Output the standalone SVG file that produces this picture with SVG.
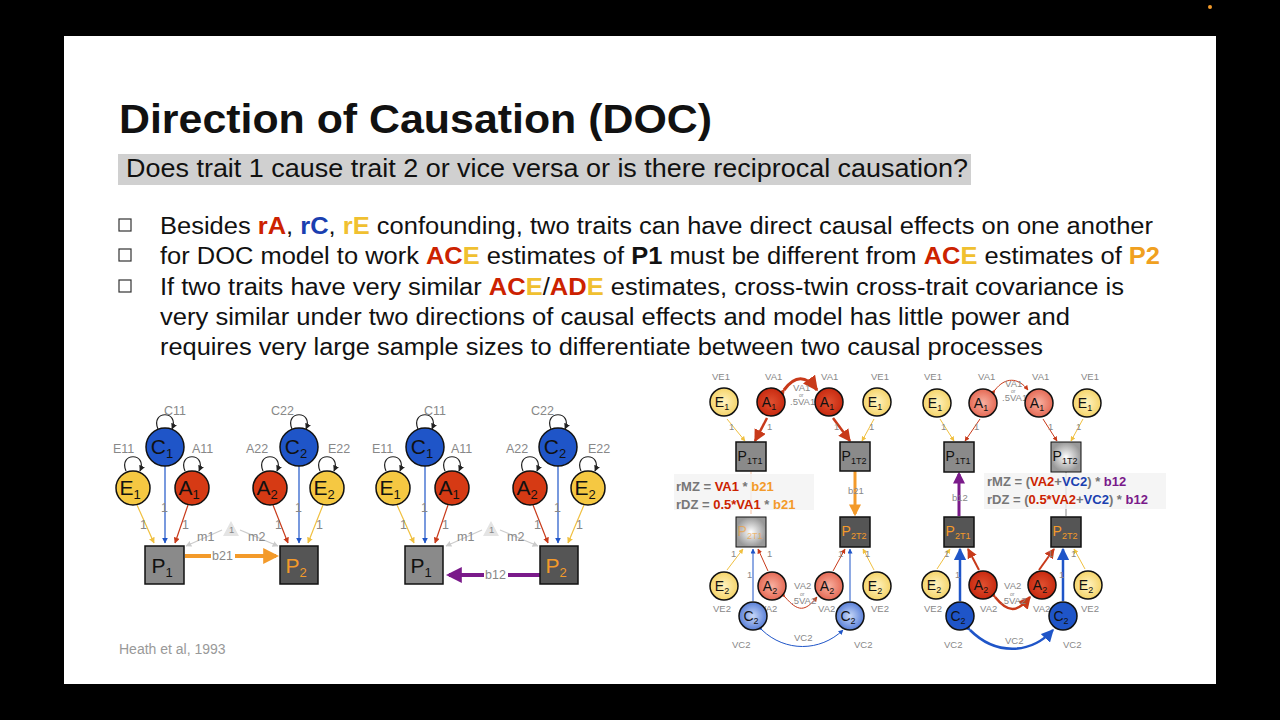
<svg xmlns="http://www.w3.org/2000/svg" width="1280" height="720" viewBox="0 0 1280 720">
<defs>
<style>
.t{font-family:"Liberation Sans",Arial,sans-serif}
.b{font-size:23px;fill:#111}
.lbl{font-family:"Liberation Sans",Arial,sans-serif;font-size:12.5px;fill:#888}
.sl{font-family:"Liberation Sans",Arial,sans-serif;font-size:9.5px;fill:#888}
.nd{stroke:#111;stroke-width:1.5}
.nt{font-family:"Liberation Sans",Arial,sans-serif;font-size:21px;fill:#111;text-anchor:middle}
.ns{font-family:"Liberation Sans",Arial,sans-serif;font-size:14px;fill:#111;text-anchor:middle}
.nt.o,.ns.o{fill:#f39a2a}
.box{fill:#8a8a8a;stroke:#111;stroke-width:1.5}
.dbox{fill:#555;stroke:#111;stroke-width:1.5}
</style>
<marker id="ab" viewBox="0 0 10 10" refX="9" refY="5" markerWidth="5" markerHeight="5" orient="auto"><path d="M0,0 L10,5 L0,10z" fill="#222"/></marker>
<marker id="abl" viewBox="0 0 10 10" refX="9" refY="5" markerWidth="5" markerHeight="5" orient="auto"><path d="M0,0 L10,5 L0,10z" fill="#1f55c8"/></marker>
<marker id="ar" viewBox="0 0 10 10" refX="9" refY="5" markerWidth="5" markerHeight="5" orient="auto"><path d="M0,0 L10,5 L0,10z" fill="#c83a1a"/></marker>
<marker id="ay" viewBox="0 0 10 10" refX="9" refY="5" markerWidth="5" markerHeight="5" orient="auto"><path d="M0,0 L10,5 L0,10z" fill="#f0c040"/></marker>
<marker id="ag" viewBox="0 0 10 10" refX="9" refY="5" markerWidth="5" markerHeight="5" orient="auto"><path d="M0,0 L10,5 L0,10z" fill="#ccc"/></marker>
<marker id="ao" viewBox="0 0 10 10" refX="8" refY="5" markerWidth="4" markerHeight="4" orient="auto"><path d="M0,0 L10,5 L0,10z" fill="#f39a2a"/></marker>
<marker id="ap" viewBox="0 0 10 10" refX="8" refY="5" markerWidth="4" markerHeight="4" orient="auto"><path d="M0,0 L10,5 L0,10z" fill="#7a1a8a"/></marker>
<radialGradient id="gy"><stop offset="0" stop-color="#fff3c0"/><stop offset="1" stop-color="#f5d46a"/></radialGradient>
<radialGradient id="gr"><stop offset="0" stop-color="#e05030"/><stop offset="1" stop-color="#c82a10"/></radialGradient>
<radialGradient id="gpr"><stop offset="0" stop-color="#f8b0a0"/><stop offset="1" stop-color="#e56a55"/></radialGradient>
<radialGradient id="gpb"><stop offset="0" stop-color="#c8d8f8"/><stop offset="1" stop-color="#5a80d8"/></radialGradient>
<radialGradient id="gw"><stop offset="0" stop-color="#fff"/><stop offset="1" stop-color="#999"/></radialGradient>
</defs>
<rect width="1280" height="720" fill="#000"/>
<rect x="64" y="36" width="1152" height="648" fill="#fff"/>
<circle cx="1210" cy="7" r="2" fill="#f39a2a"/>

<g id="title">
<text class="t" x="119" y="133" font-size="41" font-weight="bold" fill="#111" textLength="593" lengthAdjust="spacingAndGlyphs">Direction of Causation (DOC)</text>
<rect x="118" y="154" width="853" height="31" fill="#d0d0d0"/>
<text class="t" x="126" y="177" font-size="25" fill="#111" textLength="842" lengthAdjust="spacingAndGlyphs">Does trait 1 cause trait 2 or vice versa or is there reciprocal causation?</text>
</g>

<g id="bullets">
<g fill="none" stroke="#333" stroke-width="1.2">
<rect x="119" y="219" width="12" height="12"/><rect x="119" y="249" width="12" height="12"/><rect x="119" y="280" width="12" height="12"/>
</g>
<text class="t b" x="160" y="234" textLength="993" lengthAdjust="spacingAndGlyphs">Besides <tspan fill="#cc2200" font-weight="bold">rA</tspan>, <tspan fill="#1a3fb0" font-weight="bold">rC</tspan>, <tspan fill="#f0c030" font-weight="bold">rE</tspan> confounding, two traits can have direct causal effects on one another</text>
<text class="t b" x="160" y="264" textLength="1000" lengthAdjust="spacingAndGlyphs">for DOC model to work <tspan fill="#cc2200" font-weight="bold">AC</tspan><tspan fill="#f0c030" font-weight="bold">E</tspan> estimates of <tspan font-weight="bold">P1</tspan> must be different from <tspan fill="#cc2200" font-weight="bold">AC</tspan><tspan fill="#f0c030" font-weight="bold">E</tspan> estimates of <tspan fill="#f0a020" font-weight="bold">P2</tspan></text>
<text class="t b" x="160" y="295" textLength="964" lengthAdjust="spacingAndGlyphs">If two traits have very similar <tspan fill="#cc2200" font-weight="bold">AC</tspan><tspan fill="#f0c030" font-weight="bold">E</tspan>/<tspan fill="#cc2200" font-weight="bold">AD</tspan><tspan fill="#f0c030" font-weight="bold">E</tspan> estimates, cross-twin cross-trait covariance is</text>
<text class="t b" x="160" y="325" textLength="910" lengthAdjust="spacingAndGlyphs">very similar under two directions of causal effects and model has little power and</text>
<text class="t b" x="160" y="355" textLength="883" lengthAdjust="spacingAndGlyphs">requires very large sample sizes to differentiate between two causal processes</text>
</g>

<g id="connectors-left">
<g fill="none" stroke-width="1.2">
<path d="M165,466 V543" stroke="#1f55c8" marker-end="url(#abl)"/>
<path d="M137,505 L154,543" stroke="#f0c040" marker-end="url(#ay)"/>
<path d="M188,505 L175,543" stroke="#c83a1a" marker-end="url(#ar)"/>
<path d="M299,466 V543" stroke="#1f55c8" marker-end="url(#abl)"/>
<path d="M273,505 L288,543" stroke="#c83a1a" marker-end="url(#ar)"/>
<path d="M323,505 L308,543" stroke="#f0c040" marker-end="url(#ay)"/>
<path d="M222,530 L186,546" stroke="#ccc" marker-end="url(#ag)"/>
<path d="M240,530 L278,546" stroke="#ccc" marker-end="url(#ag)"/>
<path d="M425,466 V543" stroke="#1f55c8" marker-end="url(#abl)"/>
<path d="M397,505 L414,543" stroke="#f0c040" marker-end="url(#ay)"/>
<path d="M448,505 L435,543" stroke="#c83a1a" marker-end="url(#ar)"/>
<path d="M558,466 V543" stroke="#1f55c8" marker-end="url(#abl)"/>
<path d="M533,505 L548,543" stroke="#c83a1a" marker-end="url(#ar)"/>
<path d="M584,505 L568,543" stroke="#f0c040" marker-end="url(#ay)"/>
<path d="M482,530 L446,546" stroke="#ccc" marker-end="url(#ag)"/>
<path d="M500,530 L538,546" stroke="#ccc" marker-end="url(#ag)"/>
<path d="M158,429 C150,410 180,410 172,429" stroke="#222" marker-end="url(#ab)"/>
<path d="M126,471 C118,452 148,452 140,471" stroke="#222" marker-end="url(#ab)"/>
<path d="M185,471 C177,452 207,452 199,471" stroke="#222" marker-end="url(#ab)"/>
<path d="M292,429 C284,410 314,410 306,429" stroke="#222" marker-end="url(#ab)"/>
<path d="M263,471 C255,452 285,452 277,471" stroke="#222" marker-end="url(#ab)"/>
<path d="M320,471 C312,452 342,452 334,471" stroke="#222" marker-end="url(#ab)"/>
<path d="M418,429 C410,410 440,410 432,429" stroke="#222" marker-end="url(#ab)"/>
<path d="M386,471 C378,452 408,452 400,471" stroke="#222" marker-end="url(#ab)"/>
<path d="M445,471 C437,452 467,452 459,471" stroke="#222" marker-end="url(#ab)"/>
<path d="M551,429 C543,410 573,410 565,429" stroke="#222" marker-end="url(#ab)"/>
<path d="M523,471 C515,452 545,452 537,471" stroke="#222" marker-end="url(#ab)"/>
<path d="M581,471 C573,452 603,452 595,471" stroke="#222" marker-end="url(#ab)"/>
</g>
<path d="M185,556 H276" stroke="#f39a2a" stroke-width="4" marker-end="url(#ao)"/>
<path d="M540,575 H449" stroke="#7a1a8a" stroke-width="4" marker-end="url(#ap)"/>
</g>
<g id="labels-left" class="lbl">
<text x="164" y="415">C11</text><text x="113" y="453">E11</text><text x="192" y="453">A11</text>
<text x="271" y="415">C22</text><text x="246" y="453">A22</text><text x="328" y="453">E22</text>
<text x="424" y="415">C11</text><text x="372" y="453">E11</text><text x="451" y="453">A11</text>
<text x="531" y="415">C22</text><text x="506" y="453">A22</text><text x="588" y="453">E22</text>
<text x="161" y="512">1</text><text x="140" y="529">1</text><text x="182" y="529">1</text>
<text x="295" y="512">1</text><text x="275" y="529">1</text><text x="316" y="529">1</text>
<text x="421" y="512">1</text><text x="400" y="529">1</text><text x="442" y="529">1</text>
<text x="554" y="512">1</text><text x="534" y="529">1</text><text x="576" y="529">1</text>
<text x="197" y="541">m1</text><text x="248" y="541">m2</text>
<text x="457" y="541">m1</text><text x="507" y="541">m2</text>
<rect x="211" y="550" width="24" height="12" fill="#fff"/><text x="212" y="560">b21</text>
<rect x="484" y="569" width="24" height="12" fill="#fff"/><text x="485" y="579">b12</text>
</g>
<g id="tri-left"><path d="M231,521 L239,536 L223,536z" fill="#e4e4e4"/><text class="sl" x="229" y="533" font-size="7" fill="#666">1</text>
<path d="M491,521 L499,536 L483,536z" fill="#e4e4e4"/><text class="sl" x="489" y="533" font-size="7" fill="#666">1</text></g>

<g id="C1a"><circle class="nd" cx="165" cy="447" r="19" fill="#1f55c8"/><text class="nt" x="162" y="454">C<tspan font-size="13" dy="4">1</tspan></text></g>
<g id="E1a"><circle class="nd" cx="133" cy="488" r="17" fill="#f5c842"/><text class="nt" x="130" y="495">E<tspan font-size="13" dy="4">1</tspan></text></g>
<g id="A1a"><circle class="nd" cx="192" cy="488" r="17" fill="#d63a14"/><text class="nt" x="189" y="495">A<tspan font-size="13" dy="4">1</tspan></text></g>
<g id="C2a"><circle class="nd" cx="299" cy="447" r="19" fill="#1f55c8"/><text class="nt" x="296" y="454">C<tspan font-size="13" dy="4">2</tspan></text></g>
<g id="A2a"><circle class="nd" cx="270" cy="488" r="17" fill="#d63a14"/><text class="nt" x="267" y="495">A<tspan font-size="13" dy="4">2</tspan></text></g>
<g id="E2a"><circle class="nd" cx="327" cy="488" r="17" fill="#f5c842"/><text class="nt" x="324" y="495">E<tspan font-size="13" dy="4">2</tspan></text></g>
<g id="P1a"><rect class="box" x="145" y="546" width="39" height="38"/><text class="nt" x="162" y="573">P<tspan font-size="13" dy="4">1</tspan></text></g>
<g id="P2a"><rect class="dbox" x="280" y="546" width="38" height="38"/><text class="nt o" x="296" y="573">P<tspan font-size="13" dy="4">2</tspan></text></g>

<g id="C1b"><circle class="nd" cx="425" cy="447" r="19" fill="#1f55c8"/><text class="nt" x="422" y="454">C<tspan font-size="13" dy="4">1</tspan></text></g>
<g id="E1b"><circle class="nd" cx="393" cy="488" r="17" fill="#f5c842"/><text class="nt" x="390" y="495">E<tspan font-size="13" dy="4">1</tspan></text></g>
<g id="A1b"><circle class="nd" cx="452" cy="488" r="17" fill="#d63a14"/><text class="nt" x="449" y="495">A<tspan font-size="13" dy="4">1</tspan></text></g>
<g id="C2b"><circle class="nd" cx="558" cy="447" r="19" fill="#1f55c8"/><text class="nt" x="555" y="454">C<tspan font-size="13" dy="4">2</tspan></text></g>
<g id="A2b"><circle class="nd" cx="530" cy="488" r="17" fill="#d63a14"/><text class="nt" x="527" y="495">A<tspan font-size="13" dy="4">2</tspan></text></g>
<g id="E2b"><circle class="nd" cx="588" cy="488" r="17" fill="#f5c842"/><text class="nt" x="585" y="495">E<tspan font-size="13" dy="4">2</tspan></text></g>
<g id="P1b"><rect class="box" x="405" y="546" width="38" height="38"/><text class="nt" x="421" y="573">P<tspan font-size="13" dy="4">1</tspan></text></g>
<g id="P2b"><rect class="dbox" x="540" y="546" width="38" height="38"/><text class="nt o" x="556" y="573">P<tspan font-size="13" dy="4">2</tspan></text></g>

<text class="t" x="119" y="654" font-size="14" fill="#999">Heath et al, 1993</text>

<g id="connectors-r1" fill="none" stroke-width="1">
<path d="M727,419 L745,441" stroke="#f0c040" marker-end="url(#ay)"/>
<path d="M767,418 L755,441" stroke="#c83a1a" stroke-width="2.5" marker-end="url(#ar)"/>
<path d="M833,418 L850,441" stroke="#c83a1a" stroke-width="2.5" marker-end="url(#ar)"/>
<path d="M874,419 L862,441" stroke="#f0c040" marker-end="url(#ay)"/>
<path d="M784,390 C795,375 806,375 817,390" stroke="#c83a1a" stroke-width="3" marker-start="url(#ar)" marker-end="url(#ar)"/>
<path d="M855,471 V514" stroke="#f39a2a" stroke-width="3" marker-end="url(#ao)"/>
<path d="M751,471 V514" stroke="#f5c0a0"/>
<path d="M753,601 V549" stroke="#1f55c8" marker-end="url(#abl)"/>
<path d="M850,601 V549" stroke="#1f55c8" marker-end="url(#abl)"/>
<path d="M727,570 L743,549" stroke="#f0c040" marker-end="url(#ay)"/>
<path d="M768,571 L758,549" stroke="#c83a1a" marker-end="url(#ar)"/>
<path d="M833,571 L845,549" stroke="#c83a1a" marker-end="url(#ar)"/>
<path d="M874,570 L863,549" stroke="#f0c040" marker-end="url(#ay)"/>
<path d="M785,597 C798,612 805,612 817,597" stroke="#c83a1a" marker-start="url(#ar)" marker-end="url(#ar)"/>
<path d="M762,630 C785,652 820,652 843,630" stroke="#1f55c8" marker-start="url(#abl)" marker-end="url(#abl)"/>
</g>
<g id="labels-r1" class="sl">
<text x="712" y="380">VE1</text><text x="765" y="380">VA1</text><text x="821" y="380">VA1</text><text x="871" y="380">VE1</text>
<text x="793" y="391">VA1</text><text x="799" y="397" font-size="5">or</text><text x="790" y="405">.5VA1</text>
<text x="729" y="430">1</text><text x="767" y="430">1</text><text x="834" y="430">1</text><text x="869" y="430">1</text>
<text x="848" y="494">b21</text>
<text x="731" y="557">1</text><text x="747" y="578">1</text><text x="767" y="557">1</text><text x="838" y="557">1</text><text x="865" y="557">1</text>
<text x="794" y="589">VA2</text><text x="800" y="596" font-size="5">or</text><text x="791" y="604">.5VA2</text>
<text x="713" y="612">VE2</text><text x="760" y="612">VA2</text><text x="818" y="612">VA2</text><text x="871" y="612">VE2</text>
<text x="732" y="648">VC2</text><text x="794" y="641">VC2</text><text x="854" y="648">VC2</text>
</g>
<g id="E1c"><circle class="nd" cx="724" cy="402" r="14" fill="url(#gy)" stroke-width="1"/><text class="ns" x="722" y="407">E<tspan font-size="9" dy="3">1</tspan></text></g>
<g id="A1c"><circle class="nd" cx="771" cy="402" r="14" fill="url(#gr)" stroke-width="1"/><text class="ns" x="769" y="407">A<tspan font-size="9" dy="3">1</tspan></text></g>
<g id="A1d"><circle class="nd" cx="829" cy="402" r="14" fill="url(#gr)" stroke-width="1"/><text class="ns" x="827" y="407">A<tspan font-size="9" dy="3">1</tspan></text></g>
<g id="E1d"><circle class="nd" cx="877" cy="402" r="14" fill="url(#gy)" stroke-width="1"/><text class="ns" x="875" y="407">E<tspan font-size="9" dy="3">1</tspan></text></g>
<g id="P1T1c"><rect class="box" x="736" y="442" width="30" height="29" stroke-width="1"/><text class="ns" x="750" y="461">P<tspan font-size="9" dy="3">1T1</tspan></text></g>
<g id="P1T2c"><rect class="box" x="840" y="442" width="30" height="29" stroke-width="1"/><text class="ns" x="854" y="461">P<tspan font-size="9" dy="3">1T2</tspan></text></g>
<g id="P2T1c"><rect x="736" y="517" width="30" height="30" fill="url(#gw)" stroke="#111" stroke-width="1"/><text class="ns o" x="750" y="536" opacity="0.6">P<tspan font-size="9" dy="3">2T1</tspan></text></g>
<g id="P2T2c"><rect class="dbox" x="840" y="517" width="30" height="30" stroke-width="1"/><text class="ns o" x="854" y="536">P<tspan font-size="9" dy="3">2T2</tspan></text></g>
<g id="E2c"><circle class="nd" cx="724" cy="586" r="14" fill="url(#gy)" stroke-width="1"/><text class="ns" x="722" y="591">E<tspan font-size="9" dy="3">2</tspan></text></g>
<g id="A2c"><circle class="nd" cx="772" cy="586" r="14" fill="url(#gpr)" stroke-width="1"/><text class="ns" x="770" y="591">A<tspan font-size="9" dy="3">2</tspan></text></g>
<g id="A2d"><circle class="nd" cx="829" cy="586" r="14" fill="url(#gpr)" stroke-width="1"/><text class="ns" x="827" y="591">A<tspan font-size="9" dy="3">2</tspan></text></g>
<g id="E2d"><circle class="nd" cx="877" cy="586" r="14" fill="url(#gy)" stroke-width="1"/><text class="ns" x="875" y="591">E<tspan font-size="9" dy="3">2</tspan></text></g>
<g id="C2c"><circle class="nd" cx="753" cy="616" r="14" fill="url(#gpb)" stroke-width="1"/><text class="ns" x="751" y="621">C<tspan font-size="9" dy="3">2</tspan></text></g>
<g id="C2d"><circle class="nd" cx="850" cy="616" r="14" fill="url(#gpb)" stroke-width="1"/><text class="ns" x="848" y="621">C<tspan font-size="9" dy="3">2</tspan></text></g>
<rect x="674" y="474" width="140" height="36" fill="#f2f2f2" opacity="0.8"/>
<text class="t" x="676" y="491" font-size="13" font-weight="bold" fill="#777">rMZ = <tspan fill="#cc2200">VA1</tspan> * <tspan fill="#f39a2a">b21</tspan></text>
<text class="t" x="676" y="509" font-size="13" font-weight="bold" fill="#777">rDZ = <tspan fill="#cc2200">0.5*VA1</tspan> * <tspan fill="#f39a2a">b21</tspan></text>

<g id="connectors-r2" fill="none" stroke-width="1">
<path d="M940,419 L954,441" stroke="#f0c040" marker-end="url(#ay)"/>
<path d="M980,419 L965,441" stroke="#c83a1a" marker-end="url(#ar)"/>
<path d="M1043,419 L1057,441" stroke="#c83a1a" marker-end="url(#ar)"/>
<path d="M1083,419 L1071,441" stroke="#f0c040" marker-end="url(#ay)"/>
<path d="M995,390 C1005,377 1018,377 1028,390" stroke="#c83a1a" marker-start="url(#ar)" marker-end="url(#ar)"/>
<path d="M959,516 V474" stroke="#7a1a8a" stroke-width="3" marker-end="url(#ap)"/>
<path d="M1066,472 V516" stroke="#888"/>
<path d="M960,601 V549" stroke="#1f55c8" stroke-width="2.5" marker-end="url(#abl)"/>
<path d="M1063,601 V549" stroke="#1f55c8" stroke-width="2.5" marker-end="url(#abl)"/>
<path d="M937,569 L950,549" stroke="#f0c040" marker-end="url(#ay)"/>
<path d="M979,570 L968,549" stroke="#c83a1a" stroke-width="2" marker-end="url(#ar)"/>
<path d="M1039,570 L1054,549" stroke="#c83a1a" stroke-width="2" marker-end="url(#ar)"/>
<path d="M1085,569 L1074,549" stroke="#f0c040" marker-end="url(#ay)"/>
<path d="M995,597 C1008,613 1017,613 1030,597" stroke="#c83a1a" stroke-width="2.5" marker-start="url(#ar)" marker-end="url(#ar)"/>
<path d="M970,630 C995,655 1030,655 1053,630" stroke="#1f55c8" stroke-width="2.5" marker-start="url(#abl)" marker-end="url(#abl)"/>
</g>
<g id="labels-r2" class="sl">
<text x="924" y="380">VE1</text><text x="978" y="380">VA1</text><text x="1032" y="380">VA1</text><text x="1081" y="380">VE1</text>
<text x="1005" y="387">VA1</text><text x="1011" y="393" font-size="5">or</text><text x="1002" y="401">.5VA1</text>
<text x="941" y="430">1</text><text x="974" y="430">1</text><text x="1048" y="430">1</text><text x="1076" y="430">1</text>
<text x="952" y="501">b12</text>
<text x="944" y="557">1</text><text x="955" y="578">1</text><text x="1048" y="557">1</text><text x="1059" y="578">1</text><text x="1071" y="557">1</text>
<text x="1004" y="589">VA2</text><text x="1010" y="596" font-size="5">or</text><text x="1001" y="604">.5VA2</text>
<text x="924" y="612">VE2</text><text x="980" y="612">VA2</text><text x="1033" y="612">VA2</text><text x="1081" y="612">VE2</text>
<text x="944" y="648">VC2</text><text x="1005" y="644">VC2</text><text x="1063" y="648">VC2</text>
</g>
<g id="E1e"><circle class="nd" cx="937" cy="403" r="14" fill="url(#gy)" stroke-width="1"/><text class="ns" x="935" y="408">E<tspan font-size="9" dy="3">1</tspan></text></g>
<g id="A1e"><circle class="nd" cx="983" cy="403" r="14" fill="url(#gpr)" stroke-width="1"/><text class="ns" x="981" y="408">A<tspan font-size="9" dy="3">1</tspan></text></g>
<g id="A1f"><circle class="nd" cx="1039" cy="403" r="14" fill="url(#gpr)" stroke-width="1"/><text class="ns" x="1037" y="408">A<tspan font-size="9" dy="3">1</tspan></text></g>
<g id="E1f"><circle class="nd" cx="1087" cy="403" r="14" fill="url(#gy)" stroke-width="1"/><text class="ns" x="1085" y="408">E<tspan font-size="9" dy="3">1</tspan></text></g>
<g id="P1T1e"><rect class="box" x="944" y="442" width="30" height="30" stroke-width="1"/><text class="ns" x="958" y="461">P<tspan font-size="9" dy="3">1T1</tspan></text></g>
<g id="P1T2e"><rect x="1051" y="442" width="30" height="30" fill="url(#gw)" stroke="#111" stroke-width="1"/><text class="ns" x="1065" y="461">P<tspan font-size="9" dy="3">1T2</tspan></text></g>
<g id="P2T1e"><rect class="dbox" x="944" y="517" width="30" height="30" stroke-width="1"/><text class="ns o" x="958" y="536">P<tspan font-size="9" dy="3">2T1</tspan></text></g>
<g id="P2T2e"><rect class="dbox" x="1051" y="517" width="30" height="30" stroke-width="1"/><text class="ns o" x="1065" y="536">P<tspan font-size="9" dy="3">2T2</tspan></text></g>
<g id="E2e"><circle class="nd" cx="936" cy="585" r="14" fill="url(#gy)" stroke-width="1"/><text class="ns" x="934" y="590">E<tspan font-size="9" dy="3">2</tspan></text></g>
<g id="A2e"><circle class="nd" cx="983" cy="585" r="14" fill="url(#gr)" stroke-width="1"/><text class="ns" x="981" y="590">A<tspan font-size="9" dy="3">2</tspan></text></g>
<g id="A2f"><circle class="nd" cx="1042" cy="585" r="14" fill="url(#gr)" stroke-width="1"/><text class="ns" x="1040" y="590">A<tspan font-size="9" dy="3">2</tspan></text></g>
<g id="E2f"><circle class="nd" cx="1088" cy="585" r="14" fill="url(#gy)" stroke-width="1"/><text class="ns" x="1086" y="590">E<tspan font-size="9" dy="3">2</tspan></text></g>
<g id="C2e"><circle class="nd" cx="960" cy="616" r="14" fill="#1f55c8" stroke-width="1"/><text class="ns" x="958" y="621">C<tspan font-size="9" dy="3">2</tspan></text></g>
<g id="C2f"><circle class="nd" cx="1063" cy="616" r="14" fill="#1f55c8" stroke-width="1"/><text class="ns" x="1061" y="621">C<tspan font-size="9" dy="3">2</tspan></text></g>
<rect x="984" y="473" width="182" height="36" fill="#f2f2f2" opacity="0.8"/>
<text class="t" x="987" y="486" font-size="13" font-weight="bold" fill="#777">rMZ = (<tspan fill="#cc2200">VA2</tspan>+<tspan fill="#1a3fb0">VC2</tspan>) * <tspan fill="#7a1a8a">b12</tspan></text>
<text class="t" x="987" y="504" font-size="13" font-weight="bold" fill="#777">rDZ = (<tspan fill="#cc2200">0.5*VA2</tspan>+<tspan fill="#1a3fb0">VC2</tspan>) * <tspan fill="#7a1a8a">b12</tspan></text>
</svg>
